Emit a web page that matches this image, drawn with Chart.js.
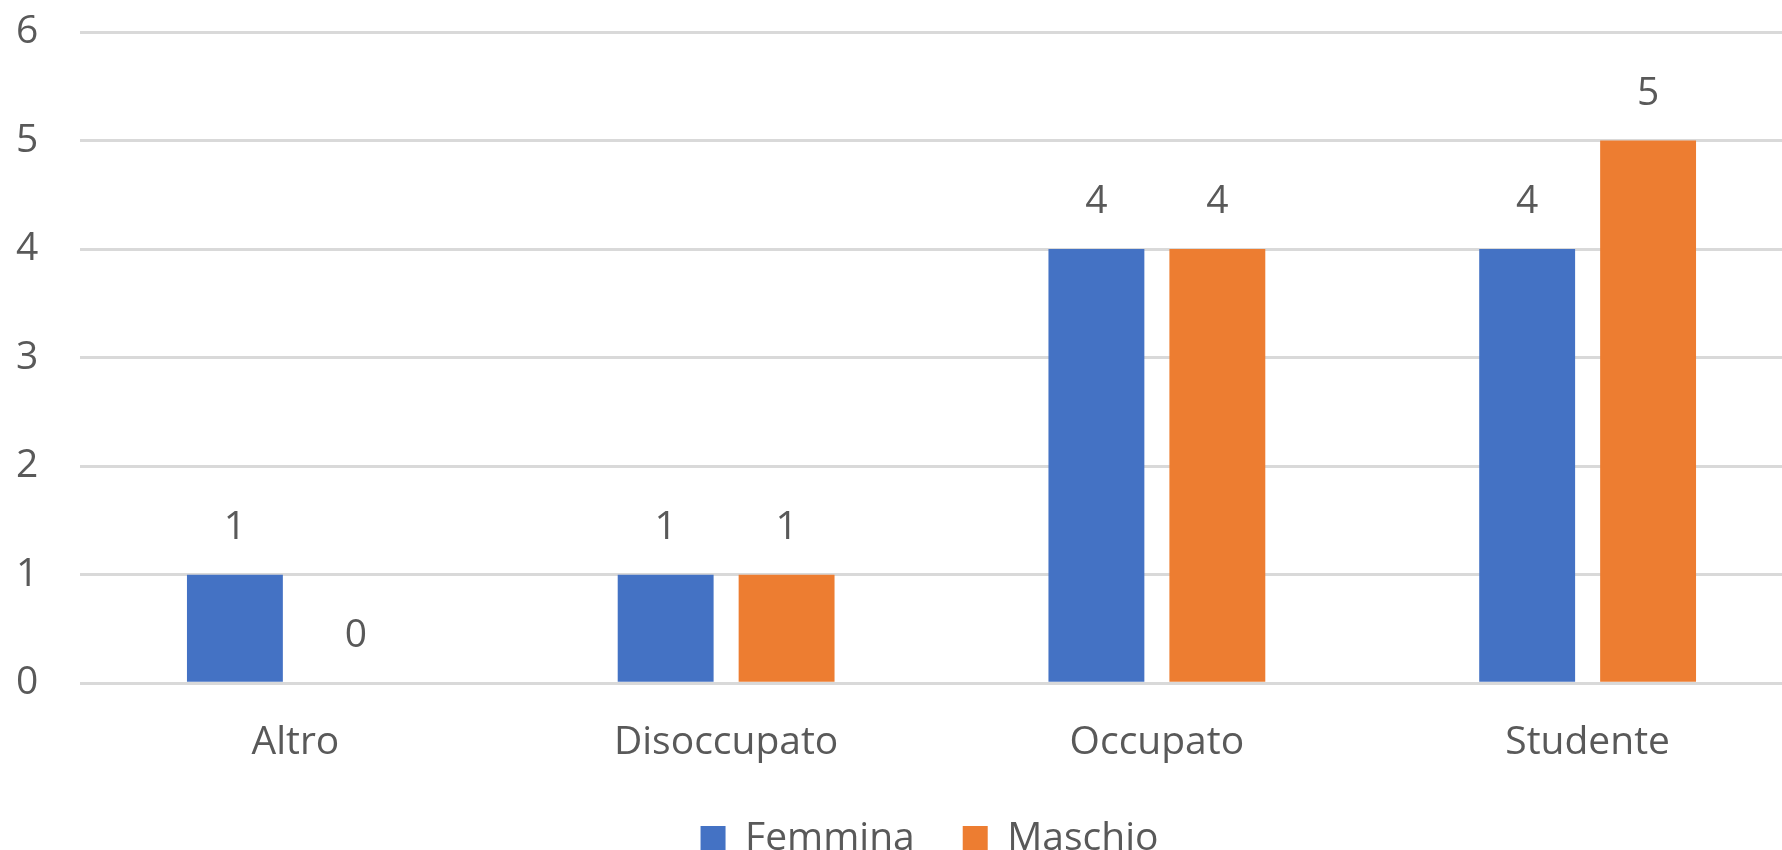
<!DOCTYPE html>
<html>
<head>
<meta charset="utf-8">
<script src="https://cdn.jsdelivr.net/npm/chart.js@4.4.0/dist/chart.umd.min.js"></script>
<style>
html, body { margin: 0; padding: 0; background: #fff; overflow: hidden; }
#wrap { width: 1782px; height: 850px; overflow: hidden; }
</style>
</head>
<body>
<div id="wrap"><canvas id="chart" width="1856" height="868"></canvas></div>
<script>
var categories = ['Altro', 'Disoccupato', 'Occupato', 'Studente'];
var femmina = [1, 1, 4, 4];
var maschio = [0, 1, 4, 5];
var yMin = 0;
var yMax = 6;
var yStep = 1;

// value labels above the bars (no datalabels plugin offline)
var valueLabels = {
    id: 'valueLabels',
    afterDatasetsDraw: function(chart) {
        var ctx = chart.ctx
        ctx.save()
        ctx.font = '39px "Open Sans"'
        ctx.fillStyle = '#595959'
        ctx.textAlign = 'center'
        ctx.textBaseline = 'alphabetic'
        chart.data.datasets.forEach(function(ds, i) {
            chart.getDatasetMeta(i).data.forEach(function(bar, j) {
                ctx.fillText(String(ds.data[j]), bar.x, bar.y - 36)
            })
        })
        ctx.restore()
    }
};

// legend is centred on the whole chart, including the paddings
var legendShift = {
    id: 'legendShift',
    afterLayout: function(chart) {
        chart.legend.left += 20
        chart.legend.right += 20
    }
};

Chart.defaults.font.family = '"Open Sans"';
Chart.defaults.font.size = 39;
Chart.defaults.color = '#595959';

new Chart(document.getElementById('chart'), {
    type: 'bar',
    data: {
        labels: categories,
        datasets: [{
            label: 'Femmina',
            data: femmina,
            backgroundColor: '#4472C4',
            categoryPercentage: 0.5615,
            barPercentage: 0.793
        }, {
            label: 'Maschio',
            data: maschio,
            backgroundColor: '#ED7D31',
            categoryPercentage: 0.5615,
            barPercentage: 0.793
        }]
    },
    options: {
        responsive: false,
        animation: false,
        devicePixelRatio: 1,
        layout: {
            padding: { top: 32, right: 53, left: 16, bottom: 0 }
        },
        scales: {
            x: {
                grid: { display: false },
                border: { display: false },
                ticks: { padding: 28 },
                afterFit: function(scale) { scale.height -= 23 }
            },
            y: {
                min: yMin,
                max: yMax,
                ticks: { stepSize: yStep, padding: 0, crossAlign: 'far' },
                grid: { color: '#D9D9D9', lineWidth: 3, drawTicks: false },
                border: { display: false },
                afterFit: function(scale) { scale.width = 64 }
            }
        },
        plugins: {
            legend: {
                position: 'bottom',
                labels: { boxWidth: 25, boxHeight: 25, padding: 48 }
            },
            tooltip: { enabled: false }
        }
    },
    plugins: [valueLabels, legendShift]
});
</script>
</body>
</html>
